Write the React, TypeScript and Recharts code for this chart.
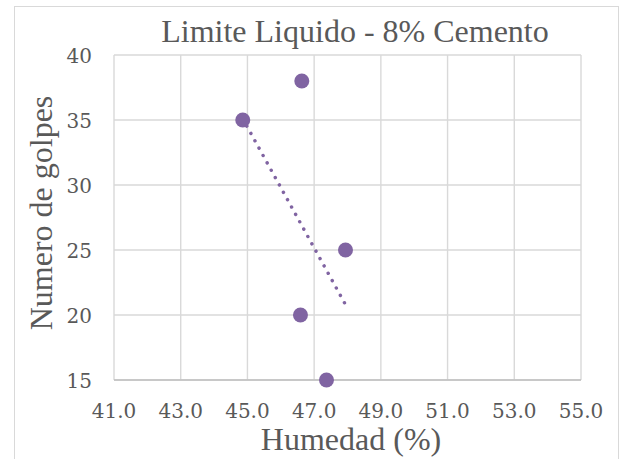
import React from "react";
import {
  ScatterChart,
  Scatter,
  XAxis,
  YAxis,
  CartesianGrid,
  Label,
} from "recharts";

// readings taken from the plot
const humedad = [46.63, 44.86, 47.94, 46.59, 47.37];
const golpes = [38, 35, 25, 20, 15];

// dotted linear trendline, end points as drawn
const trendX = [44.86, 47.94];
const trendY = [35.1, 20.8];

const xTicks = [41, 43, 45, 47, 49, 51, 53, 55];
const yTicks = [15, 20, 25, 30, 35, 40];

const points = humedad.map((x, i) => ({ x, y: golpes[i] }));
const trend = trendX.map((x, i) => ({ x, y: trendY[i] }));

const PURPLE = "#8064A2";
const TEXT = "#595959";
const SERIF = "'Liberation Serif'";
const SERIF2 = "'DejaVu Serif'";

const XTick = ({ x, y, payload }: any) => (
  <text x={x} y={y} dy={30} textAnchor="middle" fill={TEXT} fontFamily={SERIF2} fontSize={20}>
    {Number(payload.value).toFixed(1)}
  </text>
);

const YTick = ({ x, y, payload }: any) => (
  <text x={x} y={y} dx={-14} dy={8} textAnchor="end" fill={TEXT} fontFamily={SERIF2} fontSize={20}>
    {payload.value}
  </text>
);

const Dot = ({ cx, cy }: any) => <circle cx={cx} cy={cy} r={7.5} fill={PURPLE} />;

export default function App() {
  return (
    <div style={{ position: "absolute", left: 0, top: 0, width: 626, height: 459, background: "#fff" }}>
      <div
        style={{
          position: "absolute",
          left: 14,
          top: 6,
          width: 603,
          height: 452,
          border: "1px solid #d9d9d9",
        }}
      />
      <div style={{ position: "absolute", left: 0, top: 0 }}>
        <ScatterChart
          width={626}
          height={459}
          margin={{ top: 55, right: 45, bottom: 39, left: 54 }}
        >
          <CartesianGrid stroke="#d9d9d9" strokeWidth={1.4} />
          <XAxis
            type="number"
            dataKey="x"
            domain={[41, 55]}
            ticks={xTicks}
            height={40}
            axisLine={{ stroke: "#bfbfbf", strokeWidth: 1.5 }}
            tickLine={false}
            tick={<XTick />}
            interval={0}
          >
            <Label
              content={() => (
                <text x={351} y={450} textAnchor="middle" fill={TEXT} fontFamily={SERIF} fontSize={32}>
                  Humedad (%)
                </text>
              )}
            />
          </XAxis>
          <YAxis
            type="number"
            dataKey="y"
            domain={[15, 40]}
            ticks={yTicks}
            width={60}
            axisLine={false}
            tickLine={false}
            tick={<YTick />}
            interval={0}
          >
            <Label
              content={() => (
                <text
                  x={52}
                  y={213}
                  textAnchor="middle"
                  transform="rotate(-90 52 213)"
                  fill={TEXT}
                  fontFamily={SERIF}
                  fontSize={32}
                >
                  Numero de golpes
                </text>
              )}
            />
          </YAxis>
          <Scatter
            data={trend}
            line={{ stroke: PURPLE, strokeWidth: 3.5, strokeDasharray: "0.01 8.4", strokeLinecap: "round" }}
            shape={() => <g />}
            isAnimationActive={false}
          />
          <Scatter data={points} fill={PURPLE} shape={<Dot />} isAnimationActive={false} />
        </ScatterChart>
      </div>
      <svg width={626} height={459} style={{ position: "absolute", left: 0, top: 0, pointerEvents: "none" }}>
        <text x={355} y={42} textAnchor="middle" fill={TEXT} fontFamily="Liberation Serif" fontSize={32}>
          Limite Liquido - 8% Cemento
        </text>
      </svg>
    </div>
  );
}
